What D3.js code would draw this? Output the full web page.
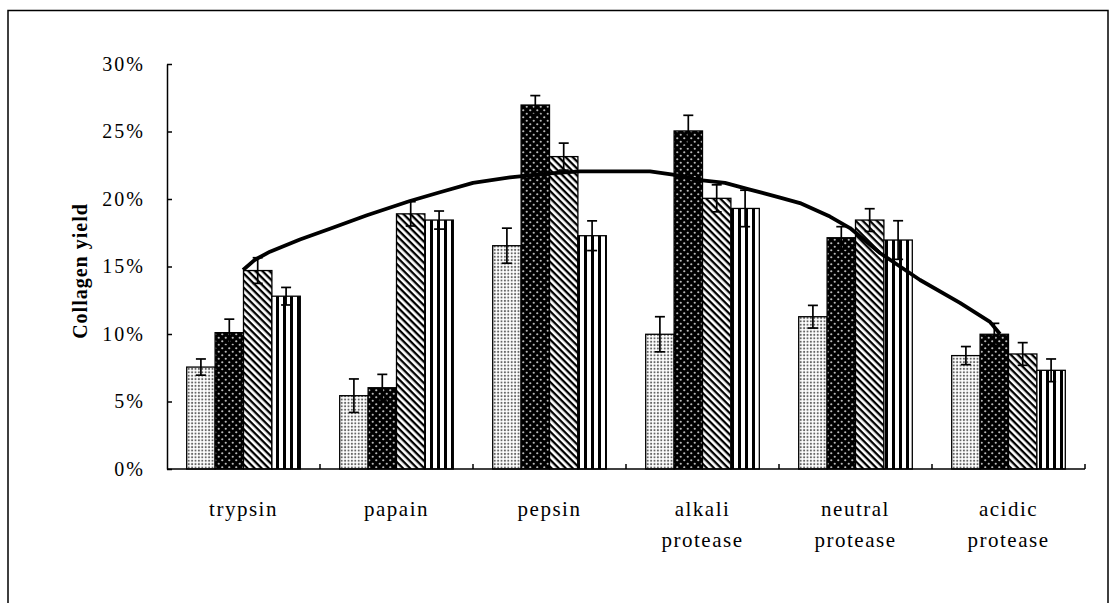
<!DOCTYPE html>
<html>
<head>
<meta charset="utf-8">
<script src="https://cdn.jsdelivr.net/npm/d3@7"></script>
<style>
    body { margin: 0; background: #fff; }
    text { font-family: "Liberation Serif", "Times New Roman", serif; fill: #000; }
    .axis path, .axis line { stroke: #000; stroke-width: 1.5px; }
</style>
</head>
<body>
<div id="container"></div>
<script>

var categories = ["trypsin", "papain", "pepsin", "alkali protease", "neutral protease", "acidic protease"];

// four enzyme-dose series, yield in %
var series1 = [7.55, 5.43, 16.54, 9.98, 11.28, 8.40];
var series2 = [10.10, 6.02, 26.96, 25.04, 17.13, 9.98];
var series3 = [14.70, 18.90, 23.14, 20.05, 18.44, 8.52];
var series4 = [12.80, 18.44, 17.28, 19.30, 16.96, 7.31];

// error (+/-) for each bar
var err1 = [0.60, 1.24, 1.30, 1.30, 0.84, 0.67];
var err2 = [1.00, 0.99, 0.70, 1.16, 0.82, 0.81];
var err3 = [0.95, 0.90, 1.00, 1.00, 0.84, 0.84];
var err4 = [0.65, 0.67, 1.10, 1.35, 1.43, 0.84];

// trend curve, x in category units (0 = left of trypsin), y in %
var trendX = [0.497, 0.575, 0.673, 0.869, 1.065, 1.307, 1.588, 1.784, 2.0, 2.242, 2.503, 2.699,
              3.026, 3.157, 3.307, 3.484, 3.647, 3.810, 4.007, 4.137, 4.333, 4.464, 4.660,
              4.922, 5.183, 5.379, 5.444];
var trendY = [14.74, 15.5, 16.1, 17.0, 17.8, 18.8, 19.85, 20.5, 21.2, 21.6, 21.9, 22.05,
              22.05, 22.05, 21.8, 21.4, 21.2, 20.7, 20.1, 19.7, 18.7, 17.85, 16.0,
              14.0, 12.3, 10.9, 10.0];

var yTicks = [0, 5, 10, 15, 20, 25, 30];

var values = [series1, series2, series3, series4];
var errors = [err1, err2, err3, err4];
var patterns = ["pat-dots", "pat-dark", "pat-diag", "pat-vert"];

var width = 1116, height = 603;

var svg = d3.select("#container").append("svg")
    .attr("width", width)
    .attr("height", height);

/**
 * patterns
 */
var defs = svg.append("defs");

var p1 = defs.append("pattern").attr("id", "pat-dots")
    .attr("patternUnits", "userSpaceOnUse").attr("width", 3.4).attr("height", 3.4);
p1.append("rect").attr("width", 3.4).attr("height", 3.4).attr("fill", "#fff");
p1.append("circle").attr("cx", 1.7).attr("cy", 1.7).attr("r", 1.05).attr("fill", "#666");

var p2 = defs.append("pattern").attr("id", "pat-dark")
    .attr("patternUnits", "userSpaceOnUse").attr("width", 7).attr("height", 7);
p2.append("rect").attr("width", 7).attr("height", 7).attr("fill", "#000");
p2.append("circle").attr("cx", 1.75).attr("cy", 1.75).attr("r", 1.1).attr("fill", "#bbb");
p2.append("circle").attr("cx", 5.25).attr("cy", 5.25).attr("r", 1.1).attr("fill", "#bbb");

var p3 = defs.append("pattern").attr("id", "pat-diag")
    .attr("patternUnits", "userSpaceOnUse").attr("width", 5).attr("height", 5)
    .attr("patternTransform", "rotate(45)");
p3.append("rect").attr("width", 5).attr("height", 5).attr("fill", "#fff");
p3.append("rect").attr("width", 5).attr("height", 2.3).attr("fill", "#000");

var p4 = defs.append("pattern").attr("id", "pat-vert")
    .attr("patternUnits", "userSpaceOnUse").attr("width", 7).attr("height", 7);
p4.append("rect").attr("width", 7).attr("height", 7).attr("fill", "#fff");
p4.append("rect").attr("x", 3).attr("width", 3).attr("height", 7).attr("fill", "#000");

/**
 * outer frame
 */
svg.append("path")
    .attr("d", "M8,610V10.5H1108V610")
    .attr("fill", "none")
    .attr("stroke", "#000")
    .attr("stroke-width", 1.5);

/**
 * scales
 */
var x = d3.scaleBand().domain(categories).range([167, 1085]);
var xs = d3.scaleBand().domain([0, 1, 2, 3]).range([19.7, 133.3]);
var xc = d3.scaleLinear().domain([0, categories.length]).range([167, 1085]);
var y = d3.scaleLinear().domain([0, 30]).range([469, 64]);

/**
 * bars
 */
var rows = [];
categories.forEach(function (c, i) {
    values.forEach(function (s, k) {
        rows.push({cat: c, k: k, v: s[i], e: errors[k][i]});
    });
});

svg.append("g").selectAll("rect")
    .data(rows)
    .enter().append("rect")
    .attr("x", function (d) { return x(d.cat) + xs(d.k); })
    .attr("y", function (d) { return y(d.v); })
    .attr("width", xs.bandwidth())
    .attr("height", function (d) { return y(0) - y(d.v); })
    .attr("fill", function (d) { return "url(#" + patterns[d.k] + ")"; })
    .attr("stroke", "#000")
    .attr("stroke-width", 1.3);

/**
 * error bars
 */
var eb = svg.append("g").attr("stroke", "#000").attr("stroke-width", 1.7);

rows.forEach(function (d) {
    var cx = x(d.cat) + xs(d.k) + xs.bandwidth() / 2;
    eb.append("line").attr("x1", cx).attr("x2", cx)
        .attr("y1", y(d.v - d.e)).attr("y2", y(d.v + d.e));
    eb.append("line").attr("x1", cx - 5).attr("x2", cx + 5)
        .attr("y1", y(d.v + d.e)).attr("y2", y(d.v + d.e));
    eb.append("line").attr("x1", cx - 5).attr("x2", cx + 5)
        .attr("y1", y(d.v - d.e)).attr("y2", y(d.v - d.e));
});

/**
 * axes
 */
var yAxis = d3.axisRight(y)
    .tickValues(yTicks)
    .tickSize(5)
    .tickSizeOuter(0)
    .tickFormat(function (d) { return d + "%"; });

var gy = svg.append("g")
    .attr("class", "axis")
    .attr("transform", "translate(167,0)")
    .call(yAxis);
gy.selectAll(".tick text")
    .attr("x", -22)
    .attr("text-anchor", "end")
    .style("font-size", "20px")
    .style("letter-spacing", "2px")
    .style("font-family", "Liberation Serif");

var xAxis = d3.axisTop(x).tickSize(0).tickFormat("");
var gx = svg.append("g")
    .attr("class", "axis")
    .attr("transform", "translate(0," + y(0) + ")")
    .call(xAxis);
gx.select(".domain").attr("d", "M167,0H1085");

// separators between categories
gx.selectAll("line.sep")
    .data(d3.range(1, categories.length + 1))
    .enter().append("line")
    .attr("class", "sep")
    .attr("x1", function (d) { return xc(d); })
    .attr("x2", function (d) { return xc(d); })
    .attr("y1", 0).attr("y2", -5);

// category labels
var labels = svg.append("g").selectAll("text")
    .data(categories)
    .enter().append("text")
    .attr("x", function (d) { return x(d) + x.bandwidth() / 2; })
    .attr("y", 516)
    .attr("text-anchor", "middle")
    .style("font-size", "21px")
    .style("letter-spacing", "1.5px");

labels.each(function (d) {
    var t = d3.select(this);
    d.split(" ").forEach(function (w, i) {
        t.append("tspan")
            .attr("x", x(d) + x.bandwidth() / 2)
            .attr("dy", i === 0 ? 0 : 31)
            .text(w);
    });
});

// axis title
svg.append("text")
    .attr("transform", "translate(80,271) rotate(-90)")
    .attr("text-anchor", "middle")
    .attr("dy", "0.35em")
    .style("font-size", "20px")
    .style("letter-spacing", "1px")
    .style("font-weight", "bold")
    .text("Collagen yield");

/**
 * trend curve
 */
var trend = trendX.map(function (t, i) { return [t, trendY[i]]; });

var line = d3.line()
    .x(function (d) { return xc(d[0]); })
    .y(function (d) { return y(d[1]); });

svg.append("path")
    .datum(trend)
    .attr("d", line)
    .attr("fill", "none")
    .attr("stroke", "#000")
    .attr("stroke-width", 3.8)
    .attr("stroke-linejoin", "round");

</script>
</body>
</html>
